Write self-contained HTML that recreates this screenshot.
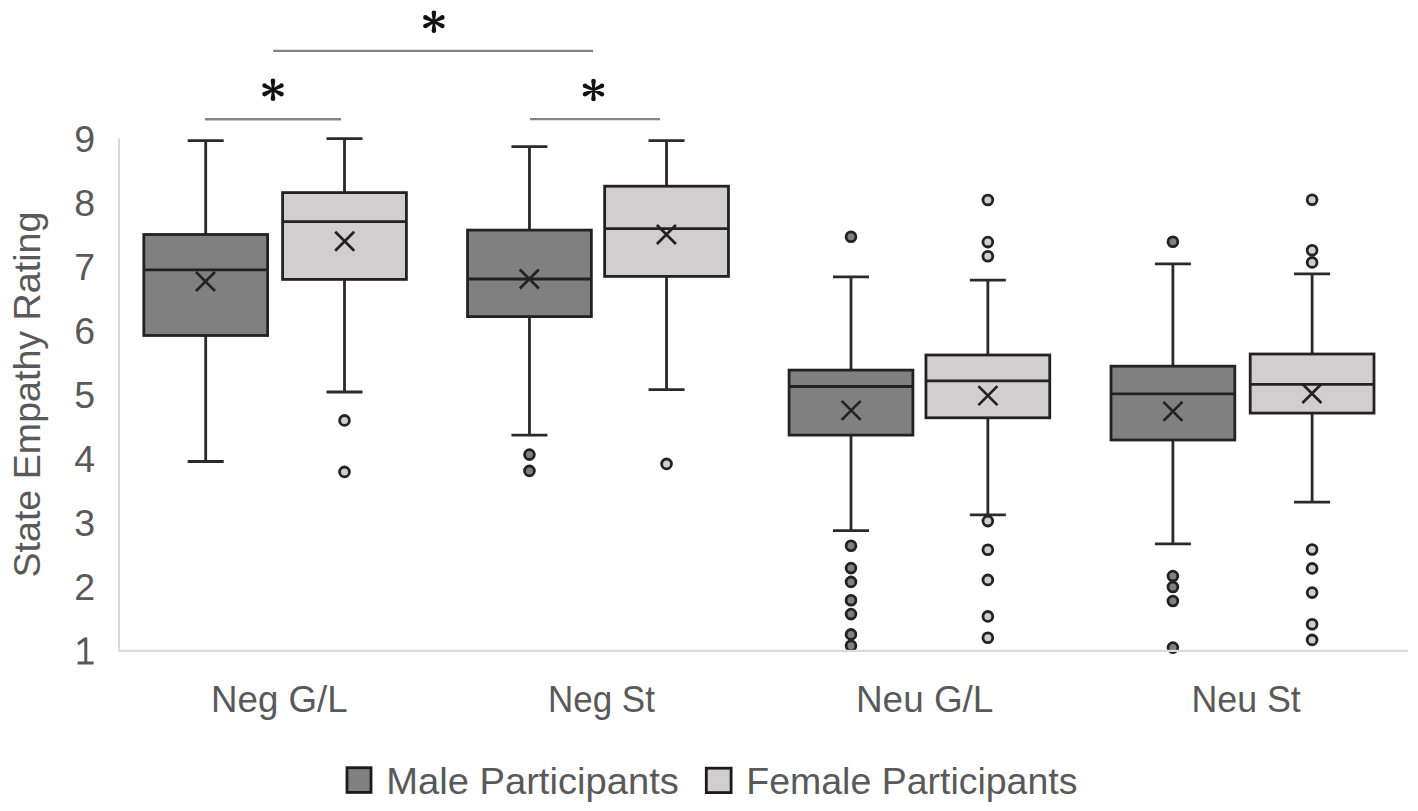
<!DOCTYPE html>
<html><head><meta charset="utf-8"><title>State Empathy Rating box plot</title>
<style>
html,body{margin:0;padding:0;background:#fff;}
body{width:1418px;height:811px;overflow:hidden;}
svg{display:block;}
.t{font-family:"Liberation Sans",sans-serif;font-size:37.5px;fill:#595959;}
</style></head><body>
<svg width="1418" height="811" viewBox="0 0 1418 811">
<rect width="1418" height="811" fill="#fff"/>
<line x1="119" y1="138.3" x2="119" y2="651.9" stroke="#dadada" stroke-width="2"/>
<path d="M205.7 140.6V234.5M205.7 335.5V461.5M187.7 140.6H223.7M187.7 461.5H223.7" stroke="#2a2a2a" stroke-width="2.8" fill="none"/>
<rect x="143.8" y="234.5" width="123.8" height="101" fill="#808080" stroke="#222222" stroke-width="2.8"/>
<path d="M143.8 269.9H267.6" stroke="#222222" stroke-width="2.8"/>
<path d="M196 272L215 291M196 291L215 272" stroke="#222222" stroke-width="2.7"/>
<path d="M344.5 138.6V192.6M344.5 279.4V392M326.5 138.6H362.5M326.5 392H362.5" stroke="#2a2a2a" stroke-width="2.8" fill="none"/>
<rect x="282.6" y="192.6" width="123.8" height="86.8" fill="#d0cece" stroke="#222222" stroke-width="2.8"/>
<path d="M282.6 221.7H406.4" stroke="#222222" stroke-width="2.8"/>
<path d="M335.2 231.8L354.2 250.8M335.2 250.8L354.2 231.8" stroke="#222222" stroke-width="2.7"/>
<circle cx="344.5" cy="420.4" r="4.9" fill="#d0cece" stroke="#222222" stroke-width="2.8"/>
<circle cx="344.5" cy="471.9" r="4.9" fill="#d0cece" stroke="#222222" stroke-width="2.8"/>
<path d="M529.45 146.7V230.1M529.45 316.6V435.2M511.45 146.7H547.45M511.45 435.2H547.45" stroke="#2a2a2a" stroke-width="2.8" fill="none"/>
<rect x="467.55" y="230.1" width="123.8" height="86.5" fill="#808080" stroke="#222222" stroke-width="2.8"/>
<path d="M467.55 279H591.35" stroke="#222222" stroke-width="2.8"/>
<path d="M519.8 269.5L538.8 288.5M519.8 288.5L538.8 269.5" stroke="#222222" stroke-width="2.7"/>
<circle cx="529.45" cy="454.6" r="4.9" fill="#808080" stroke="#222222" stroke-width="2.8"/>
<circle cx="529.45" cy="470.9" r="4.9" fill="#808080" stroke="#222222" stroke-width="2.8"/>
<path d="M666.55 140.6V186.2M666.55 276.4V389.7M648.55 140.6H684.55M648.55 389.7H684.55" stroke="#2a2a2a" stroke-width="2.8" fill="none"/>
<rect x="604.65" y="186.2" width="123.8" height="90.2" fill="#d0cece" stroke="#222222" stroke-width="2.8"/>
<path d="M604.65 228.6H728.45" stroke="#222222" stroke-width="2.8"/>
<path d="M656.9 225L675.9 244M656.9 244L675.9 225" stroke="#222222" stroke-width="2.7"/>
<circle cx="666.55" cy="463.9" r="4.9" fill="#d0cece" stroke="#222222" stroke-width="2.8"/>
<path d="M851 276.8V370.1M851 435.1V530.6M833 276.8H869M833 530.6H869" stroke="#2a2a2a" stroke-width="2.8" fill="none"/>
<rect x="789.1" y="370.1" width="123.8" height="65" fill="#808080" stroke="#222222" stroke-width="2.8"/>
<path d="M789.1 386.5H912.9" stroke="#222222" stroke-width="2.8"/>
<path d="M841.7 400.9L860.7 419.9M841.7 419.9L860.7 400.9" stroke="#222222" stroke-width="2.7"/>
<circle cx="851" cy="236.7" r="4.9" fill="#808080" stroke="#222222" stroke-width="2.8"/>
<circle cx="851" cy="545.8" r="4.9" fill="#808080" stroke="#222222" stroke-width="2.8"/>
<circle cx="851" cy="568.1" r="4.9" fill="#808080" stroke="#222222" stroke-width="2.8"/>
<circle cx="851" cy="581.9" r="4.9" fill="#808080" stroke="#222222" stroke-width="2.8"/>
<circle cx="851" cy="600.3" r="4.9" fill="#808080" stroke="#222222" stroke-width="2.8"/>
<circle cx="851" cy="614.1" r="4.9" fill="#808080" stroke="#222222" stroke-width="2.8"/>
<circle cx="851" cy="634.4" r="4.9" fill="#808080" stroke="#222222" stroke-width="2.8"/>
<circle cx="851" cy="645.7" r="4.9" fill="#808080" stroke="#222222" stroke-width="2.8"/>
<path d="M987.85 280.2V355M987.85 417.8V514.8M969.85 280.2H1005.85M969.85 514.8H1005.85" stroke="#2a2a2a" stroke-width="2.8" fill="none"/>
<rect x="925.95" y="355" width="123.8" height="62.8" fill="#d0cece" stroke="#222222" stroke-width="2.8"/>
<path d="M925.95 380.8H1049.75" stroke="#222222" stroke-width="2.8"/>
<path d="M978.4 386.1L997.4 405.1M978.4 405.1L997.4 386.1" stroke="#222222" stroke-width="2.7"/>
<circle cx="987.85" cy="200" r="4.9" fill="#d0cece" stroke="#222222" stroke-width="2.8"/>
<circle cx="987.85" cy="242.1" r="4.9" fill="#d0cece" stroke="#222222" stroke-width="2.8"/>
<circle cx="987.85" cy="256.2" r="4.9" fill="#d0cece" stroke="#222222" stroke-width="2.8"/>
<circle cx="987.85" cy="521.1" r="4.9" fill="#d0cece" stroke="#222222" stroke-width="2.8"/>
<circle cx="987.85" cy="549.7" r="4.9" fill="#d0cece" stroke="#222222" stroke-width="2.8"/>
<circle cx="987.85" cy="579.9" r="4.9" fill="#d0cece" stroke="#222222" stroke-width="2.8"/>
<circle cx="987.85" cy="616.4" r="4.9" fill="#d0cece" stroke="#222222" stroke-width="2.8"/>
<circle cx="987.85" cy="637.8" r="4.9" fill="#d0cece" stroke="#222222" stroke-width="2.8"/>
<path d="M1172.9 263.8V366.2M1172.9 440V543.9M1154.9 263.8H1190.9M1154.9 543.9H1190.9" stroke="#2a2a2a" stroke-width="2.8" fill="none"/>
<rect x="1111" y="366.2" width="123.8" height="73.8" fill="#808080" stroke="#222222" stroke-width="2.8"/>
<path d="M1111 393.9H1234.8" stroke="#222222" stroke-width="2.8"/>
<path d="M1163.4 401.9L1182.4 420.9M1163.4 420.9L1182.4 401.9" stroke="#222222" stroke-width="2.7"/>
<circle cx="1172.9" cy="241.8" r="4.9" fill="#808080" stroke="#222222" stroke-width="2.8"/>
<circle cx="1172.9" cy="576.1" r="4.9" fill="#808080" stroke="#222222" stroke-width="2.8"/>
<circle cx="1172.9" cy="587" r="4.9" fill="#808080" stroke="#222222" stroke-width="2.8"/>
<circle cx="1172.9" cy="601" r="4.9" fill="#808080" stroke="#222222" stroke-width="2.8"/>
<circle cx="1172.9" cy="647.6" r="4.9" fill="#808080" stroke="#222222" stroke-width="2.8"/>
<path d="M1312.1 273.9V354M1312.1 413.1V502.2M1294.1 273.9H1330.1M1294.1 502.2H1330.1" stroke="#2a2a2a" stroke-width="2.8" fill="none"/>
<rect x="1250.2" y="354" width="123.8" height="59.1" fill="#d0cece" stroke="#222222" stroke-width="2.8"/>
<path d="M1250.2 384.4H1374" stroke="#222222" stroke-width="2.8"/>
<path d="M1302.4 384L1321.4 403M1302.4 403L1321.4 384" stroke="#222222" stroke-width="2.7"/>
<circle cx="1312.1" cy="199.8" r="4.9" fill="#d0cece" stroke="#222222" stroke-width="2.8"/>
<circle cx="1312.1" cy="250.2" r="4.9" fill="#d0cece" stroke="#222222" stroke-width="2.8"/>
<circle cx="1312.1" cy="262.4" r="4.9" fill="#d0cece" stroke="#222222" stroke-width="2.8"/>
<circle cx="1312.1" cy="549.5" r="4.9" fill="#d0cece" stroke="#222222" stroke-width="2.8"/>
<circle cx="1312.1" cy="568.4" r="4.9" fill="#d0cece" stroke="#222222" stroke-width="2.8"/>
<circle cx="1312.1" cy="592.6" r="4.9" fill="#d0cece" stroke="#222222" stroke-width="2.8"/>
<circle cx="1312.1" cy="624.3" r="4.9" fill="#d0cece" stroke="#222222" stroke-width="2.8"/>
<circle cx="1312.1" cy="639.9" r="4.9" fill="#d0cece" stroke="#222222" stroke-width="2.8"/>
<line x1="118" y1="650.9" x2="1408" y2="650.9" stroke="#dadada" stroke-width="2.4"/>
<line x1="205" y1="119.25" x2="341" y2="119.25" stroke="#858585" stroke-width="2.3"/>
<line x1="530" y1="119.1" x2="660" y2="119.1" stroke="#858585" stroke-width="2.3"/>
<line x1="273.2" y1="50.9" x2="593.1" y2="50.9" stroke="#858585" stroke-width="2.3"/>
<path d="M274 89.8L275.3 80.8L270.7 80.8L272 89.8ZM270.7 80.8a2.3 2.3 0 1 0 4.6 0a2.3 2.3 0 1 0 -4.6 0ZM272 89.8L270.7 98.8L275.3 98.8L274 89.8ZM270.7 98.8a2.3 2.3 0 1 0 4.6 0a2.3 2.3 0 1 0 -4.6 0ZM273.45 90.69L282.51 87.54L280.42 83.44L272.55 88.91ZM279.16 85.49a2.3 2.3 0 1 0 4.6 0a2.3 2.3 0 1 0 -4.6 0ZM272.55 90.69L280.42 96.16L282.51 92.06L273.45 88.91ZM279.16 94.11a2.3 2.3 0 1 0 4.6 0a2.3 2.3 0 1 0 -4.6 0ZM273.45 88.91L265.58 83.44L263.49 87.54L272.55 90.69ZM262.24 85.49a2.3 2.3 0 1 0 4.6 0a2.3 2.3 0 1 0 -4.6 0ZM272.55 88.91L263.49 92.06L265.58 96.16L273.45 90.69ZM262.24 94.11a2.3 2.3 0 1 0 4.6 0a2.3 2.3 0 1 0 -4.6 0Z" fill="#111"/>
<path d="M594.5 90L595.8 81L591.2 81L592.5 90ZM591.2 81a2.3 2.3 0 1 0 4.6 0a2.3 2.3 0 1 0 -4.6 0ZM592.5 90L591.2 99L595.8 99L594.5 90ZM591.2 99a2.3 2.3 0 1 0 4.6 0a2.3 2.3 0 1 0 -4.6 0ZM593.95 90.89L603.01 87.74L600.92 83.64L593.05 89.11ZM599.66 85.69a2.3 2.3 0 1 0 4.6 0a2.3 2.3 0 1 0 -4.6 0ZM593.05 90.89L600.92 96.36L603.01 92.26L593.95 89.11ZM599.66 94.31a2.3 2.3 0 1 0 4.6 0a2.3 2.3 0 1 0 -4.6 0ZM593.95 89.11L586.08 83.64L583.99 87.74L593.05 90.89ZM582.74 85.69a2.3 2.3 0 1 0 4.6 0a2.3 2.3 0 1 0 -4.6 0ZM593.05 89.11L583.99 92.26L586.08 96.36L593.95 90.89ZM582.74 94.31a2.3 2.3 0 1 0 4.6 0a2.3 2.3 0 1 0 -4.6 0Z" fill="#111"/>
<path d="M434.9 21.7L436.2 12.7L431.6 12.7L432.9 21.7ZM431.6 12.7a2.3 2.3 0 1 0 4.6 0a2.3 2.3 0 1 0 -4.6 0ZM432.9 21.7L431.6 30.7L436.2 30.7L434.9 21.7ZM431.6 30.7a2.3 2.3 0 1 0 4.6 0a2.3 2.3 0 1 0 -4.6 0ZM434.35 22.59L443.41 19.44L441.32 15.34L433.45 20.81ZM440.06 17.39a2.3 2.3 0 1 0 4.6 0a2.3 2.3 0 1 0 -4.6 0ZM433.45 22.59L441.32 28.06L443.41 23.96L434.35 20.81ZM440.06 26.01a2.3 2.3 0 1 0 4.6 0a2.3 2.3 0 1 0 -4.6 0ZM434.35 20.81L426.48 15.34L424.39 19.44L433.45 22.59ZM423.14 17.39a2.3 2.3 0 1 0 4.6 0a2.3 2.3 0 1 0 -4.6 0ZM433.45 20.81L424.39 23.96L426.48 28.06L434.35 22.59ZM423.14 26.01a2.3 2.3 0 1 0 4.6 0a2.3 2.3 0 1 0 -4.6 0Z" fill="#111"/>
<path d="M85.8 637.6V663M77.6 663.1H93.6M85.6 638.6L77.9 643.9" stroke="#595959" stroke-width="3" fill="none"/>
<text x="84.7" y="599.7" text-anchor="middle" class="t" style="font-size:37.5px">2</text>
<text x="84.7" y="535.76" text-anchor="middle" class="t" style="font-size:37.5px">3</text>
<text x="84.7" y="471.82" text-anchor="middle" class="t" style="font-size:37.5px">4</text>
<text x="84.7" y="407.88" text-anchor="middle" class="t" style="font-size:37.5px">5</text>
<text x="84.7" y="343.94" text-anchor="middle" class="t" style="font-size:37.5px">6</text>
<text x="84.7" y="280" text-anchor="middle" class="t" style="font-size:37.5px">7</text>
<text x="84.7" y="216.06" text-anchor="middle" class="t" style="font-size:37.5px">8</text>
<text x="84.7" y="152.12" text-anchor="middle" class="t" style="font-size:37.5px">9</text>
<text x="211.12" y="712" textLength="136.52" lengthAdjust="spacingAndGlyphs" class="t">Neg G/L</text>
<text x="548.02" y="712" textLength="106.89" lengthAdjust="spacingAndGlyphs" class="t">Neg St</text>
<text x="855.98" y="712" textLength="137.43" lengthAdjust="spacingAndGlyphs" class="t">Neu G/L</text>
<text x="1191.47" y="712" textLength="109.34" lengthAdjust="spacingAndGlyphs" class="t">Neu St</text>
<text transform="translate(39.7 577.53) rotate(-90)" x="0" y="0" textLength="365.87" lengthAdjust="spacingAndGlyphs" class="t">State Empathy Rating</text>
<rect x="347" y="767.7" width="24" height="24.7" fill="#808080" stroke="#1a1a1a" stroke-width="2.8"/>
<text x="386.18" y="793.5" textLength="292.64" lengthAdjust="spacingAndGlyphs" class="t">Male Participants</text>
<rect x="706.3" y="768.2" width="24.8" height="24.4" fill="#d0cece" stroke="#1a1a1a" stroke-width="2.8"/>
<text x="746.36" y="793.5" textLength="331.05" lengthAdjust="spacingAndGlyphs" class="t">Female Participants</text>
</svg>
</body></html>
